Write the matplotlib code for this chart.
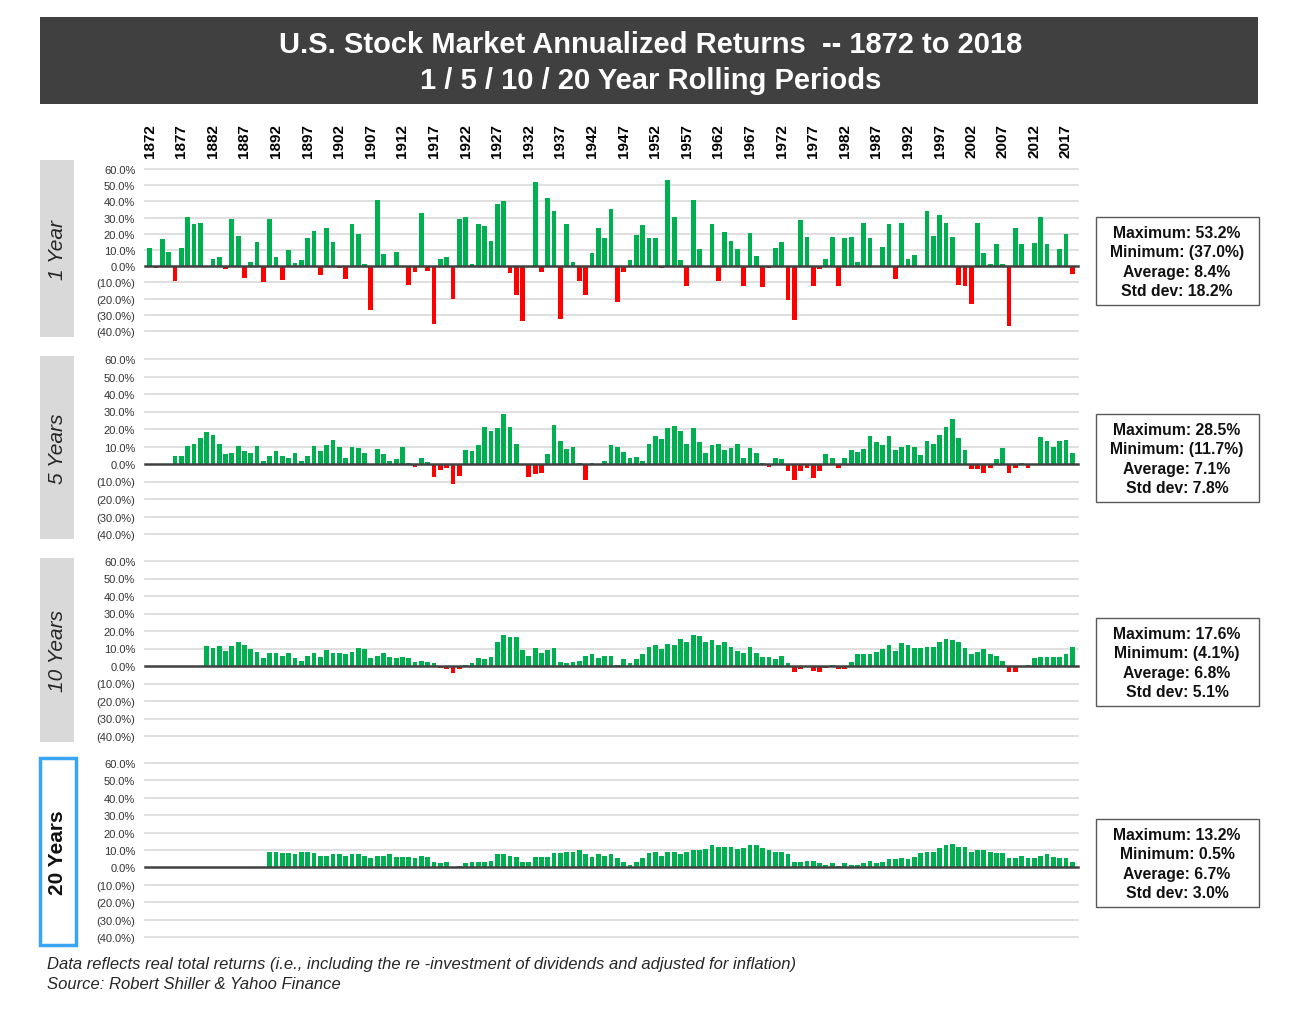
import numpy as np
import matplotlib
matplotlib.use('Agg')
import matplotlib.pyplot as plt
from matplotlib.patches import Rectangle

plt.rcParams['font.family'] = ['Liberation Sans', 'DejaVu Sans']

nan = np.nan
years = list(range(1872, 2019))

# values (annualized real returns, %)
one_year = [
    11.0, -1.0, 17.0, 8.8, -9.2, 11.0, 30.6, 26.0, 26.7, 0.3,
    4.7, 5.5, -2.0, 29.0, 18.8, -7.5, 2.4, 14.9, -10.0, 29.0,
    5.5, -8.4, 10.2, 2.2, 3.9, 17.3, 22.0, -5.3, 23.5, 14.9,
    -1.2, -8.2, 26.0, 19.6, 1.4, -27.0, 40.6, 7.8, -0.5, 8.6,
    0.3, -11.4, -3.7, 32.9, -2.9, -35.7, 4.7, 5.5, -20.0, 29.0,
    30.6, 1.4, 26.0, 25.0, 15.7, 38.4, 40.0, -4.5, -17.8, -34.0,
    -0.5, 52.0, -3.7, 42.4, 33.9, -32.7, 26.0, 2.4, -9.2, -17.8,
    8.0, 23.7, 17.3, 35.3, -22.4, -3.7, 4.1, 19.0, 25.3, 17.3,
    17.3, -1.4, 53.2, 30.6, 4.1, -12.2, 40.8, 10.4, -0.5, 26.0,
    -9.2, 21.2, 15.7, 10.4, -12.2, 20.4, 6.3, -13.0, -1.2, 11.0,
    14.9, -20.8, -33.3, 28.4, 18.2, -12.2, -2.0, 4.7, 18.2, -12.2,
    17.3, 18.2, 2.4, 26.7, 17.3, 0.3, 11.8, 26.0, -8.2, 26.7,
    4.7, 7.1, -0.5, 33.9, 18.8, 31.4, 26.7, 18.2, -11.4, -12.2,
    -23.3, 26.7, 8.0, 1.6, 13.5, 1.6, -37.0, 23.7, 13.5, -0.5,
    14.3, 30.6, 13.5, 0.3, 10.4, 19.8, -5.1,
]

five_year = [
    nan, nan, nan, nan, 4.3, 4.3, 10.3, 11.5, 15.1, 18.2,
    16.7, 11.5, 5.7, 6.5, 10.1, 7.3, 6.5, 10.1, 2.0, 4.3,
    7.3, 4.3, 3.6, 6.5, 2.0, 4.3, 10.1, 7.3, 11.0, 14.0,
    9.5, 3.5, 9.5, 9.0, 6.5, -0.5, 8.8, 6.0, 2.0, 3.0,
    10.0, 0.3, -1.5, 3.5, 1.3, -7.5, -3.7, -2.0, -11.7, -6.7,
    8.0, 7.5, 11.0, 21.0, 19.0, 20.4, 28.5, 21.0, 11.5, -0.5,
    -7.3, -5.7, -5.0, 5.7, 22.4, 13.0, 8.6, 10.0, 0.3, -9.0,
    0.3, -0.5, 1.9, 11.0, 10.0, 7.0, 3.5, 4.2, 1.9, 11.5,
    16.0, 14.4, 20.3, 21.8, 19.0, 11.5, 20.3, 12.3, 6.3, 11.0,
    11.5, 7.9, 9.4, 11.5, 3.5, 9.4, 6.3, 0.3, -1.5, 3.5,
    2.7, -3.8, -9.0, -3.8, -2.3, -8.2, -3.8, 5.7, 3.5, -2.3,
    3.5, 7.9, 7.1, 8.6, 16.0, 12.3, 10.7, 16.0, 7.9, 10.0,
    10.7, 10.0, 5.0, 13.0, 11.5, 16.7, 21.0, 25.5, 15.1, 7.9,
    -3.0, -3.0, -5.4, -2.3, 2.7, 9.4, -5.4, -2.3, 0.3, -2.3,
    -0.5, 15.3, 13.0, 10.0, 13.0, 13.8, 6.3,
]

ten_year = [
    nan, nan, nan, nan, nan, nan, nan, nan, nan, 11.2,
    10.3, 11.2, 8.8, 11.2, 14.0, 11.8, 9.7, 8.2, 4.6, 7.4,
    7.4, 5.9, 7.4, 4.6, 3.0, 5.9, 7.4, 5.3, 9.0, 7.4,
    7.4, 6.7, 8.2, 10.3, 9.7, 4.6, 5.9, 7.4, 5.3, 4.6,
    5.3, 4.6, 2.3, 3.0, 2.3, 1.7, -1.3, -1.9, -4.1, -1.9,
    0.8, 1.7, 4.6, 3.8, 5.3, 14.0, 17.6, 16.4, 16.4, 9.0,
    5.9, 10.3, 7.4, 9.0, 10.3, 2.3, 1.7, 2.3, 3.0, 5.9,
    6.7, 4.4, 5.9, 5.9, 0.5, 3.8, 1.7, 3.8, 6.7, 11.0,
    11.8, 9.5, 12.6, 11.8, 15.4, 13.9, 17.5, 17.0, 13.9, 14.7,
    11.8, 13.9, 11.0, 8.8, 7.4, 11.0, 7.4, 5.1, 5.1, 3.8,
    5.9, 1.5, -3.4, -1.9, -0.3, -2.7, -3.4, -1.1, 0.3, -1.9,
    -1.9, 2.3, 6.7, 6.7, 6.7, 8.0, 9.5, 11.8, 8.8, 13.1,
    11.8, 10.3, 10.3, 11.0, 11.0, 13.9, 15.4, 14.7, 13.9, 10.3,
    6.7, 8.0, 9.5, 6.7, 5.9, 3.0, -3.4, -3.4, -0.5, 0.3,
    4.4, 5.1, 5.1, 5.1, 5.1, 6.7, 11.0,
]

twenty_year = [
    nan, nan, nan, nan, nan, nan, nan, nan, nan, nan,
    nan, nan, nan, nan, nan, nan, nan, nan, nan, 9.0,
    9.0, 8.2, 8.2, 7.5, 9.0, 9.0, 8.2, 6.7, 6.7, 7.5,
    7.5, 6.7, 7.5, 7.5, 6.7, 5.2, 6.7, 6.7, 7.5, 5.9,
    5.9, 5.9, 5.2, 6.7, 5.9, 3.1, 2.3, 3.1, 0.5, 0.6,
    2.3, 3.1, 3.1, 3.1, 3.8, 7.5, 7.5, 6.7, 5.9, 3.1,
    3.1, 5.9, 5.9, 5.9, 8.2, 8.2, 9.0, 9.0, 9.8, 7.5,
    5.9, 7.5, 6.7, 7.5, 5.2, 3.1, 1.5, 3.1, 5.2, 8.2,
    9.0, 6.7, 9.0, 9.0, 7.5, 9.0, 9.8, 9.8, 10.3, 12.6,
    11.9, 11.9, 11.9, 10.3, 11.1, 12.6, 12.6, 11.1, 9.8, 9.0,
    9.0, 7.5, 3.1, 3.1, 3.8, 3.8, 2.3, 1.5, 2.3, 0.6,
    2.3, 1.5, 1.5, 2.3, 3.8, 2.3, 3.1, 4.6, 4.6, 5.2,
    4.6, 5.9, 8.2, 9.0, 9.0, 11.1, 12.6, 13.2, 11.9, 11.9,
    9.0, 9.8, 9.8, 9.0, 8.2, 8.2, 5.2, 5.2, 6.7, 5.2,
    5.2, 6.7, 7.5, 5.9, 5.2, 5.2, 3.1,
]

series = [one_year, five_year, ten_year, twenty_year]
panel_names = ['1 Year', '5 Years', '10 Years', '20 Years']
stats = [
    ['Maximum: 53.2%', 'Minimum: (37.0%)', 'Average: 8.4%', 'Std dev: 18.2%'],
    ['Maximum: 28.5%', 'Minimum: (11.7%)', 'Average: 7.1%', 'Std dev: 7.8%'],
    ['Maximum: 17.6%', 'Minimum: (4.1%)', 'Average: 6.8%', 'Std dev: 5.1%'],
    ['Maximum: 13.2%', 'Minimum: 0.5%', 'Average: 6.7%', 'Std dev: 3.0%'],
]
yticks = [60, 50, 40, 30, 20, 10, 0, -10, -20, -30, -40]

W, H = 1292, 1020
GREEN = '#00B050'
RED = '#FF0000'
DARK = '#404040'

# pixel positions of each panel: (y of 60%, y of -40%)
panel_px = [(170, 332), (360, 535), (562, 737), (764, 938)]
label_box_px = [(161, 338), (357, 540), (559, 743), (759, 946)]
stat_box_px = [218, 415, 619, 820]
AX_L, AX_R = 145, 1078


def fig_rect(x0, y0, x1, y1):
    # pixel box (top-left origin) -> figure fraction [l, b, w, h]
    return [x0 / W, 1 - y1 / H, (x1 - x0) / W, (y1 - y0) / H]


def pct_label(v):
    if v < 0:
        return '({:.1f}%)'.format(-v)
    return '{:.1f}%'.format(v)


fig = plt.figure(figsize=(W / 100, H / 100), dpi=100)
fig.patch.set_facecolor('white')

# title band
l, b, w, h = fig_rect(40, 18, 1258, 105)
fig.add_artist(Rectangle((l, b), w, h, transform=fig.transFigure,
                         facecolor='#404040', edgecolor='none'))
fig.text(651 / W, 1 - 45 / H, 'U.S. Stock Market Annualized Returns  -- 1872 to 2018',
         ha='center', va='center', color='white', fontsize=21, fontweight='bold')
fig.text(651 / W, 1 - 81 / H, '1 / 5 / 10 / 20 Year Rolling Periods',
         ha='center', va='center', color='white', fontsize=21, fontweight='bold')

x = np.arange(len(years))

for k, vals in enumerate(series):
    top, bot = panel_px[k]
    ax = fig.add_axes(fig_rect(AX_L, top, AX_R, bot))
    vals = np.array(vals, dtype=float)
    colors = [GREEN if v >= 0 else RED for v in np.nan_to_num(vals)]
    ax.bar(x, np.nan_to_num(vals), width=0.75, color=colors, zorder=2)

    for t in yticks:
        if t == 0:
            continue
        ax.axhline(t, color='#d9d9d9', linewidth=1.2, zorder=1, clip_on=False)
    ax.axhline(0, color=DARK, linewidth=1.8, zorder=3, clip_on=False)

    ax.set_xlim(-0.74, 146.9)
    ax.set_ylim(-40, 60)
    ax.set_yticks(yticks)
    ax.set_yticklabels([pct_label(t) for t in yticks])
    ax.tick_params(axis='y', length=0, pad=7, labelsize=8, labelcolor='#333333')
    for s in ax.spines.values():
        s.set_visible(False)

    if k == 0:
        ax.xaxis.tick_top()
        ax.set_xticks(x[::5])
        ax.set_xticklabels([str(y) for y in years[::5]], rotation=90,
                           fontsize=11, fontweight='bold')
        ax.tick_params(axis='x', length=0, pad=9)
    else:
        ax.set_xticks([])

    # left label box
    y0, y1 = label_box_px[k]
    if k < 3:
        l, b, w, h = fig_rect(40, y0, 74, y1)
        fig.add_artist(Rectangle((l, b), w, h, transform=fig.transFigure,
                                 facecolor='#d9d9d9', edgecolor='none'))
        fig.text(57 / W, 1 - (y0 + y1) / 2 / H, panel_names[k], rotation=90,
                 ha='center', va='center', fontsize=15, fontstyle='italic',
                 color='#262626')
    else:
        l, b, w, h = fig_rect(39.5, y0, 75.5, y1)
        fig.add_artist(Rectangle((l, b), w, h, transform=fig.transFigure,
                                 facecolor='white', edgecolor='#38A6F5',
                                 linewidth=2.5))
        fig.text(57 / W, 1 - (y0 + y1) / 2 / H, panel_names[k], rotation=90,
                 ha='center', va='center', fontsize=15, fontweight='bold',
                 color='#111111')

    # stats box
    sy = stat_box_px[k]
    l, b, w, h = fig_rect(1096, sy, 1259, sy + 88)
    fig.add_artist(Rectangle((l, b), w, h, transform=fig.transFigure,
                             facecolor='white', edgecolor='#595959', linewidth=1))
    for j, line in enumerate(stats[k]):
        fig.text(1177 / W, 1 - (sy + 15.5 + 19.3 * j) / H, line,
                 ha='center', va='center', fontsize=11.3, fontweight='bold',
                 color='#111111')

fig.text(47 / W, 1 - 965 / H,
         'Data reflects real total returns (i.e., including the re -investment of '
         'dividends and adjusted for inflation)',
         ha='left', va='center', fontsize=12, fontstyle='italic', color='#262626')
fig.text(47 / W, 1 - 985 / H, 'Source: Robert Shiller & Yahoo Finance',
         ha='left', va='center', fontsize=12, fontstyle='italic', color='#262626')

fig.savefig('out.png', dpi=100)
